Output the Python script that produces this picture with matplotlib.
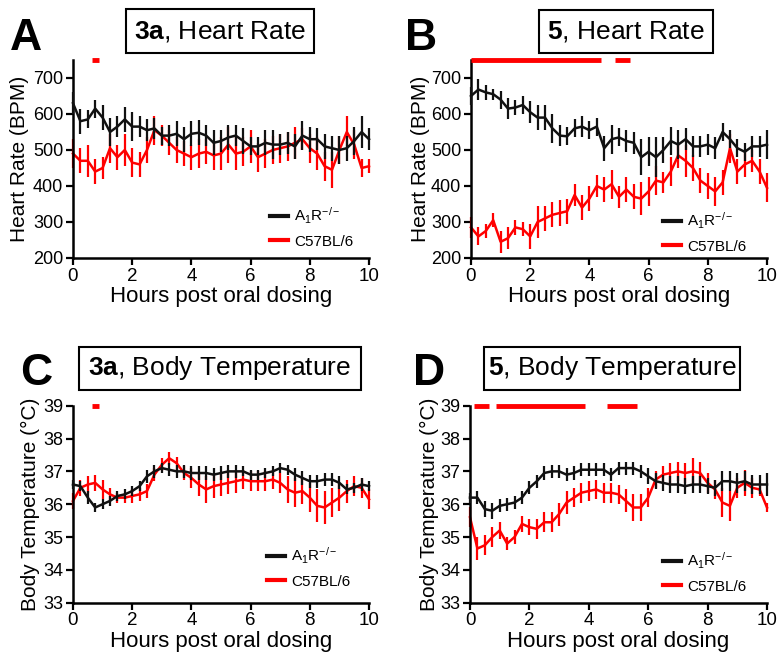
import matplotlib
matplotlib.use("Agg")
import matplotlib.pyplot as plt
from matplotlib.patches import Rectangle
from matplotlib.lines import Line2D
import numpy as np

plt.rcParams['font.family'] = ['Liberation Sans', 'DejaVu Sans']
plt.rcParams['mathtext.fontset'] = 'custom'
plt.rcParams['mathtext.rm'] = 'Liberation Sans'
plt.rcParams['mathtext.bf'] = 'Liberation Sans:bold'
plt.rcParams['mathtext.it'] = 'Liberation Sans:italic'

hours = [i * 0.25 for i in range(41)]

# Panel A: 3a heart rate
hrA_ko = [630, 580, 585, 615, 590, 550, 565, 585, 565, 565, 555, 560, 540, 540, 545, 530, 545, 548, 540, 520, 525,
          535, 540, 525, 510, 510, 520, 515, 515, 520, 510, 540, 530, 530, 510, 505, 500, 505, 525, 550, 530]
hrA_ko_err = [30, 35, 25, 25, 35, 40, 30, 35, 40, 30, 30, 30, 25, 30, 35, 35, 35, 35, 30, 35, 30,
              35, 30, 35, 25, 25, 35, 40, 30, 30, 35, 40, 35, 30, 35, 35, 40, 35, 40, 45, 30]
hrA_wt = [490, 470, 470, 440, 450, 505, 480, 500, 465, 460, 500, 555, 540, 520, 500, 490, 480, 490, 495, 485, 490,
          515, 490, 495, 510, 480, 490, 500, 505, 510, 520, 530, 505, 490, 455, 445, 500, 550, 515, 450, 455]
hrA_wt_err = [40, 35, 45, 35, 30, 40, 35, 45, 40, 35, 35, 40, 30, 35, 35, 35, 35, 40, 35, 40, 45,
              50, 45, 40, 45, 40, 40, 40, 40, 40, 45, 30, 40, 45, 40, 50, 40, 45, 40, 25, 20]
sigA = [0.75]

# Panel B: 5 heart rate
hrB_ko = [650, 668, 660, 655, 640, 615, 618, 625, 605, 590, 590, 560, 540, 538, 560, 565, 555, 565, 505, 530, 535,
          525, 520, 480, 495, 480, 500, 525, 515, 530, 510, 510, 515, 505, 550, 530, 505, 495, 510, 510, 515]
hrB_ko_err = [25, 30, 20, 15, 25, 30, 20, 25, 30, 35, 35, 40, 30, 25, 25, 30, 25, 25, 35, 40, 25,
              30, 30, 50, 40, 55, 35, 40, 40, 30, 30, 30, 30, 30, 25, 25, 25, 25, 30, 30, 40]
hrB_wt = [285, 260, 275, 305, 245, 255, 285, 280, 260, 300, 310, 320, 325, 330, 375, 340, 365, 400, 390, 405, 370,
          390, 370, 365, 385, 415, 410, 440, 485, 470, 450, 415, 400, 385, 410, 505, 440, 460, 470, 440, 395]
hrB_wt_err = [30, 25, 20, 20, 30, 30, 20, 20, 35, 45, 35, 35, 35, 35, 30, 35, 35, 30, 35, 40, 30,
              35, 35, 45, 40, 40, 30, 40, 35, 45, 35, 35, 35, 40, 35, 40, 35, 35, 30, 35, 40]
sigB = [0, 0.25, 0.5, 0.75, 1.0, 1.25, 1.5, 1.75, 2.0, 2.25, 2.5, 2.75, 3.0, 3.25, 3.5, 3.75, 4.0, 4.25, 5.0, 5.25]

# Panel C: 3a body temperature
btC_ko = [36.6, 36.55, 36.2, 35.9, 36.0, 36.1, 36.25, 36.3, 36.4, 36.55, 36.85, 37.0, 37.1, 37.05, 37.0, 37.0,
          36.95, 36.95, 36.95, 36.9, 36.95, 37.0, 37.0, 37.0, 36.9, 36.9, 36.95, 37.0, 37.1, 37.05, 36.9, 36.8,
          36.7, 36.7, 36.75, 36.75, 36.65, 36.45, 36.5, 36.6, 36.55]
btC_ko_err = [0.15, 0.15, 0.2, 0.15, 0.15, 0.15, 0.15, 0.15, 0.15, 0.15, 0.2, 0.2, 0.15, 0.2, 0.2, 0.2, 0.2,
              0.2, 0.2, 0.2, 0.2, 0.2, 0.2, 0.15, 0.15, 0.15, 0.15, 0.15, 0.15, 0.15, 0.2, 0.2, 0.2, 0.2, 0.2,
              0.2, 0.2, 0.15, 0.15, 0.2, 0.15]
btC_wt = [36.1, 36.5, 36.6, 36.65, 36.45, 36.3, 36.2, 36.2, 36.25, 36.3, 36.4, 36.9, 37.2, 37.4, 37.25, 36.95,
          36.8, 36.6, 36.45, 36.55, 36.6, 36.65, 36.7, 36.75, 36.7, 36.7, 36.7, 36.75, 36.65, 36.45, 36.35, 36.4,
          36.2, 35.95, 35.9, 36.05, 36.2, 36.4, 36.55, 36.5, 36.15]
btC_wt_err = [0.25, 0.25, 0.25, 0.25, 0.3, 0.2, 0.15, 0.15, 0.2, 0.2, 0.2, 0.2, 0.2, 0.2, 0.2, 0.2, 0.3, 0.35,
              0.4, 0.35, 0.35, 0.35, 0.35, 0.3, 0.3, 0.3, 0.3, 0.3, 0.3, 0.4, 0.45, 0.4, 0.45, 0.5, 0.5, 0.45,
              0.4, 0.35, 0.3, 0.3, 0.3]
sigC = [0.75]

# Panel D: 5 body temperature
btD_ko = [36.2, 36.2, 35.85, 35.8, 35.95, 36.0, 36.05, 36.2, 36.5, 36.7, 36.95, 37.0, 37.0, 36.9, 36.95, 37.05,
          37.05, 37.05, 37.05, 36.9, 37.1, 37.1, 37.1, 37.0, 36.85, 36.7, 36.65, 36.6, 36.6, 36.55, 36.6, 36.6,
          36.55, 36.5, 36.7, 36.7, 36.65, 36.7, 36.6, 36.6, 36.6]
btD_ko_err = [0.15, 0.2, 0.25, 0.25, 0.2, 0.2, 0.2, 0.2, 0.2, 0.2, 0.2, 0.2, 0.2, 0.2, 0.2, 0.2, 0.2, 0.2, 0.2,
              0.2, 0.2, 0.2, 0.2, 0.2, 0.25, 0.25, 0.25, 0.25, 0.25, 0.25, 0.25, 0.25, 0.25, 0.25, 0.3, 0.3, 0.3,
              0.3, 0.3, 0.3, 0.35]
btD_wt = [35.6, 34.65, 34.75, 35.0, 35.2, 34.8, 35.0, 35.4, 35.3, 35.25, 35.45, 35.45, 35.7, 36.05, 36.2, 36.35,
          36.4, 36.45, 36.35, 36.35, 36.3, 36.1, 35.9, 35.9, 36.2, 36.75, 36.9, 36.95, 37.0, 36.95, 37.0, 36.95,
          36.65, 36.45, 36.05, 35.95, 36.5, 36.65, 36.5, 36.45, 35.9]
btD_wt_err = [0.3, 0.35, 0.3, 0.3, 0.25, 0.2, 0.2, 0.25, 0.25, 0.3, 0.3, 0.3, 0.35, 0.35, 0.3, 0.3, 0.3, 0.3,
              0.3, 0.3, 0.3, 0.35, 0.4, 0.4, 0.3, 0.25, 0.25, 0.3, 0.3, 0.3, 0.4, 0.35, 0.3, 0.3, 0.45, 0.45,
              0.3, 0.4, 0.3, 0.2, 0.15]
sigD = [0.25, 0.5, 1.0, 1.25, 1.5, 1.75, 2.0, 2.25, 2.5, 2.75, 3.0, 3.25, 3.5, 3.75, 4.75, 5.0, 5.25, 5.5]

series_labels = [r"A$_1$R$^{-/-}$", "C57BL/6"]
titles = [(r"$\mathbf{3a}$, Heart Rate"), (r"$\mathbf{5}$, Heart Rate"),
          (r"$\mathbf{3a}$, Body Temperature"), (r"$\mathbf{5}$, Body Temperature")]
letters = ["A", "B", "C", "D"]
xlabel = "Hours post oral dosing"
ylabels = ["Heart Rate (BPM)", "Heart Rate (BPM)", "Body Temperature (°C)", "Body Temperature (°C)"]

W, H = 781, 652
fig = plt.figure(figsize=(W / 100, H / 100), dpi=100)

RED = "#ff0000"
BLACK = "#111111"

def ax_px(l, r, t, b):
    return fig.add_axes([l / W, 1 - b / H, (r - l) / W, (b - t) / H])

panels = [
    dict(box=(73, 369, 60, 258), ko=hrA_ko, koe=hrA_ko_err, wt=hrA_wt, wte=hrA_wt_err, sig=sigA,
         ylim=(200, 750), yticks=[200, 300, 400, 500, 600, 700], sigy=750, lp=3,
         leg=(270, 206), tbox=(126, 9, 188, 44), let=(10, 50)),
    dict(box=(471, 767, 60, 258), ko=hrB_ko, koe=hrB_ko_err, wt=hrB_wt, wte=hrB_wt_err, sig=sigB,
         ylim=(200, 750), yticks=[200, 300, 400, 500, 600, 700], sigy=750, lp=1,
         leg=(663, 211), tbox=(539, 10, 174, 43), let=(405, 50)),
    dict(box=(73, 369, 405.7, 602.7), ko=btC_ko, koe=btC_ko_err, wt=btC_wt, wte=btC_wt_err, sig=sigC,
         ylim=(33, 39), yticks=[33, 34, 35, 36, 37, 38, 39], sigy=39, lp=2,
         leg=(267, 546), tbox=(79, 347, 282, 43), let=(20, 385)),
    dict(box=(470, 767, 405.7, 602.7), ko=btD_ko, koe=btD_ko_err, wt=btD_wt, wte=btD_wt_err, sig=sigD,
         ylim=(33, 39), yticks=[33, 34, 35, 36, 37, 38, 39], sigy=39, lp=1,
         leg=(663, 551), tbox=(484, 347, 256, 43), let=(413, 385)),
]

for i, p in enumerate(panels):
    l, r, t, b = p["box"]
    ax = ax_px(l, r, t, b)
    ax.errorbar(hours, p["ko"], yerr=p["koe"], color=BLACK, lw=1.8, elinewidth=1.6, capsize=0,
                clip_on=False, zorder=3)
    ax.errorbar(hours, p["wt"], yerr=p["wte"], color=RED, lw=1.8, elinewidth=1.6, capsize=0,
                clip_on=False, zorder=2)
    sig = p["sig"]
    runs = []
    for s in sig:
        if runs and abs(s - runs[-1][1]) < 0.26:
            runs[-1][1] = s
        else:
            runs.append([s, s])
    for a, bb in runs:
        ax.plot([max(0, a - 0.125), bb + 0.125], [p["sigy"], p["sigy"]], color=RED, lw=3.5,
                solid_capstyle='butt', clip_on=False, zorder=4)
    ax.set_xlim(0, 10)
    ax.set_ylim(*p["ylim"])
    ax.set_xticks([0, 2, 4, 6, 8, 10])
    ax.set_yticks(p["yticks"])
    for sp in ["top", "right"]:
        ax.spines[sp].set_visible(False)
    for sp in ["left", "bottom"]:
        ax.spines[sp].set_linewidth(1.8)
    ax.tick_params(direction='out', length=5, width=1.6, pad=2)
    ax.tick_params(axis='x', labelsize=13.5)
    ax.tick_params(axis='y', labelsize=13)
    ax.set_xlabel(xlabel, fontsize=16, labelpad=1)
    ax.set_ylabel(ylabels[i], fontsize=15, labelpad=p["lp"])
    lx, ly = p["leg"]
    handles = [Line2D([], [], color=BLACK, lw=3), Line2D([], [], color=RED, lw=3)]
    ax.legend(handles, series_labels, loc='upper left',
              bbox_to_anchor=((lx - l) / (r - l), (b - ly) / (b - t)),
              frameon=False, fontsize=11, handlelength=1.15, handletextpad=0.45,
              borderpad=0, borderaxespad=0, labelspacing=0.55)
    bx, by, bw, bh = p["tbox"]
    fig.add_artist(Rectangle((bx / W, 1 - (by + bh) / H), bw / W, bh / H, transform=fig.transFigure,
                             fill=True, facecolor='white', edgecolor='black', lw=1.5))
    fig.text((bx + bw / 2) / W, 1 - (by + bh / 2) / H, titles[i], fontsize=19, ha='center', va='center')
    lx2, ly2 = p["let"]
    fig.text(lx2 / W, 1 - ly2 / H, letters[i], fontsize=32, fontweight='bold', ha='left', va='baseline')

fig.savefig("out.png", dpi=100)
